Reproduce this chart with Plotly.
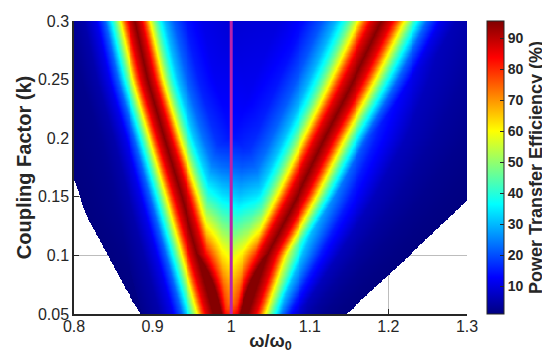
import numpy as np
import plotly.graph_objects as go

# ---------------- data ----------------
# coupling-factor rows at which the two efficiency ridges were read
k_levels = [0.05, 0.10, 0.15, 0.20, 0.25, 0.30]
left_peak = [0.977, 0.957, 0.937, 0.915, 0.894, 0.878]      # omega/omega0 of left ridge
right_peak = [1.022, 1.046, 1.084, 1.119, 1.156, 1.191]     # omega/omega0 of right ridge
left_halfwidth = [0.020, 0.020, 0.020, 0.019, 0.019, 0.019]  # half-width at 60 %
right_halfwidth = [0.022, 0.023, 0.025, 0.026, 0.028, 0.029]

# efficiency across a ridge (offset in half-widths)
core_out_n = [0, 0.45, 0.7, 1.0, 1.35, 1.6, 2.0, 2.6, 3.4, 4.5]
core_out_eff = [95, 86, 76, 60, 45, 36, 22, 11, 5, 2]
core_in_n = [0, 0.45, 0.7, 1.0, 1.35, 1.6, 2.0, 2.6, 3.4, 4.5, 6.5, 10]
core_in_eff = [95, 86, 76, 60, 46, 38, 28, 19, 12, 7.5, 4.5, 2]

# efficiency at the middle of the gap between the two ridges
gap_k = [0.05, 0.075, 0.10, 0.125, 0.15, 0.175, 0.20, 0.25, 0.30]
gap_mid_eff = [74, 67, 57, 44, 31, 21, 14, 8, 6]
bowl_t = [0, 0.2, 0.35, 0.5, 0.65, 0.8, 1]
bowl_gain = [1.7, 1.35, 1.1, 1.0, 1.1, 1.35, 1.7]

# outer tails: efficiency vs relative distance from omega0 (1 = plotted limit)
tail_r = [0.3, 0.4, 0.5, 0.6, 0.7, 0.8, 0.9, 1.0]
tail_eff = [60, 30, 15, 6.5, 3.8, 2.3, 1.5, 1.0]

# limits of the plotted region (white outside)
edge_left_k = [0.05, 0.072, 0.10, 0.129, 0.143, 0.157, 0.166, 0.20, 0.25, 0.30]
edge_left_x = [0.885, 0.865, 0.843, 0.820, 0.811, 0.805, 0.800, 0.785, 0.765, 0.745]
edge_right_k = [0.05, 0.10, 0.145, 0.20, 0.25, 0.30]
edge_right_x = [1.147, 1.227, 1.297, 1.37, 1.42, 1.46]

resonance_x = [1.0, 1.0]
resonance_k = [0.05, 0.30]

x_ticks = [0.8, 0.9, 1.0, 1.1, 1.2, 1.3]
x_ticktext = ["0.8", "0.9", "1", "1.1", "1.2", "1.3"]
y_ticks = [0.05, 0.10, 0.15, 0.20, 0.25, 0.30]
y_ticktext = ["0.05", "0.1", "0.15", "0.2", "0.25", "0.3"]
cb_ticks = [10, 20, 30, 40, 50, 60, 70, 80, 90]

# ---------------- build the efficiency map from the read values ----------------
xs = np.linspace(0.8, 1.3, 401)
ks = np.linspace(0.05, 0.30, 251)
X, K = np.meshgrid(xs, ks)

L = np.interp(K, k_levels, left_peak)
R = np.interp(K, k_levels, right_peak)
WL = np.interp(K, k_levels, left_halfwidth)
WR = np.interp(K, k_levels, right_halfwidth)
EL = np.interp(K, edge_left_k, edge_left_x)
ER = np.interp(K, edge_right_k, edge_right_x)

nL = np.abs(X - L) / WL
nR = np.abs(X - R) / WR

out_left = np.maximum(np.interp(nL, core_out_n, core_out_eff, right=0),
                      np.interp((1 - X) / (1 - EL), tail_r, tail_eff))
out_right = np.maximum(np.interp(nR, core_out_n, core_out_eff, right=0),
                       np.interp((X - 1) / (ER - 1), tail_r, tail_eff))
a = np.interp(nL, core_in_n, core_in_eff) / 95.0
b = np.interp(nR, core_in_n, core_in_eff) / 95.0
t = np.clip((X - L) / (R - L), 0, 1)
gap = np.interp(K, gap_k, gap_mid_eff) * np.interp(t, bowl_t, bowl_gain)
inner = np.maximum(95.0 * (1 - (1 - a) * (1 - b)), gap)

Z = np.where(X < L, out_left, np.where(X > R, out_right, inner))
Z = np.minimum(Z, 95.0)
Z = np.where((X < EL) | (X > ER), np.nan, Z)

jet = [[0.0, "rgb(0,0,128)"], [0.125, "rgb(0,0,255)"], [0.375, "rgb(0,255,255)"],
       [0.625, "rgb(255,255,0)"], [0.875, "rgb(255,0,0)"], [1.0, "rgb(128,0,0)"]]

ink = "#262626"
font_family = "Liberation Sans, Arial, sans-serif"
fig = go.Figure()
fig.add_trace(go.Heatmap(
    x=xs, y=ks, z=Z, colorscale=jet, zmin=1, zmax=95.5, hoverongaps=False,
    colorbar=dict(
        title=dict(text="<b>Power Transfer Efficiency (%)</b>", side="right",
                   font=dict(size=18, color=ink, family=font_family)),
        tickvals=cb_ticks, ticks="inside", ticklen=4, tickcolor=ink,
        tickfont=dict(size=14, color=ink, family=font_family, weight="bold"),
        thickness=17, len=1.0, lenmode="fraction", y=0.5, yanchor="middle",
        x=1.051, xanchor="left", xpad=0, ypad=0, outlinewidth=1, outlinecolor=ink,
    ),
))
fig.add_trace(go.Scatter(x=resonance_x, y=resonance_k, mode="lines",
                         line=dict(color="rgb(185,35,170)", width=3),
                         showlegend=False, hoverinfo="skip"))

axis_common = dict(showgrid=True, gridcolor="#bdbdbd", gridwidth=1,
                   showline=True, linecolor=ink, linewidth=1.5, mirror=False,
                   ticks="inside", ticklen=5, tickcolor=ink, tickwidth=1,
                   layer="below traces", zeroline=False, automargin=False,
                   tickfont=dict(size=16, color=ink, family=font_family))
fig.update_xaxes(range=[0.8, 1.3], tickvals=x_ticks, ticktext=x_ticktext,
                 ticklabelstandoff=-3,
                 title=dict(text="<b>ω/ω<sub>0</sub></b>", standoff=0,
                            font=dict(size=18, color=ink, family=font_family)),
                 **axis_common)
fig.update_yaxes(range=[0.05, 0.30], tickvals=y_ticks, ticktext=y_ticktext,
                 title=dict(text="<b>Coupling Factor (k)</b>", standoff=1,
                            font=dict(size=20, color=ink, family=font_family)),
                 **axis_common)
fig.update_layout(width=550, height=360, margin=dict(l=66, r=89, t=13, b=54),
                  paper_bgcolor="white", plot_bgcolor="white", showlegend=False)
fig.write_html("out.html")
